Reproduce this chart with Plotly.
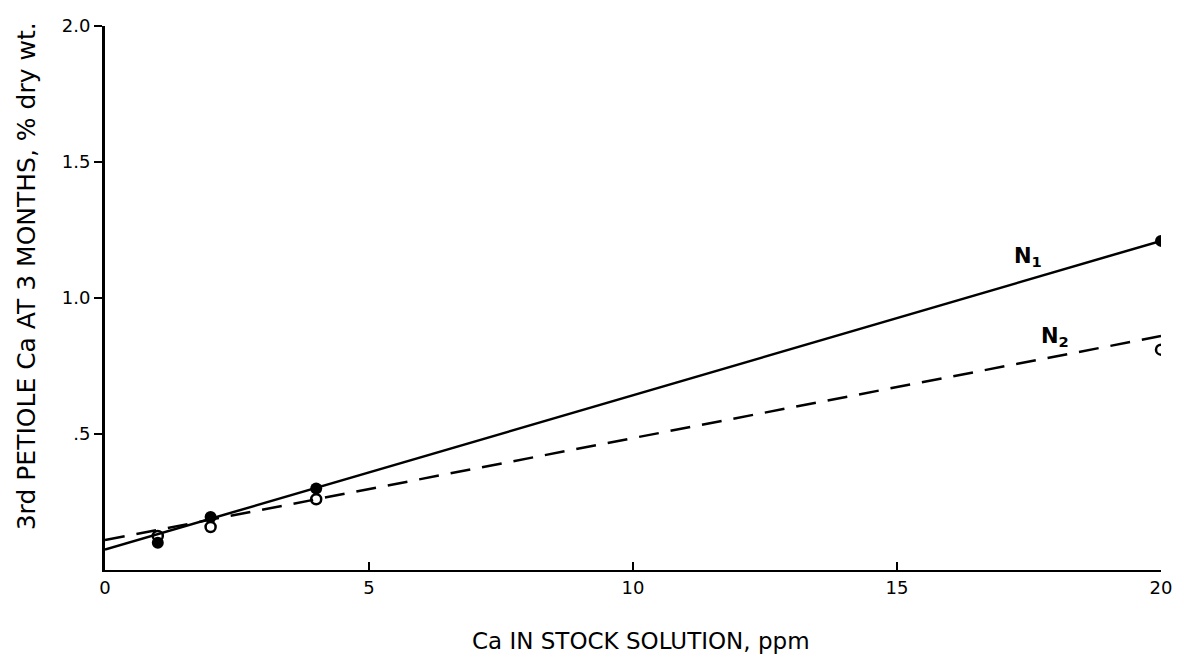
import plotly.graph_objects as go

# Data
ca_ppm = [1, 2, 4, 20]
n1_values = [0.10, 0.195, 0.30, 1.21]
n2_values = [0.125, 0.158, 0.26, 0.81]

fit_x = [0, 20]
n1_fit = [0.075, 1.21]
n2_fit = [0.11, 0.86]

x_ticks = [0, 5, 10, 15, 20]
x_tick_text = ["0", "5", "10", "15", "20"]
y_ticks = [0.5, 1.0, 1.5, 2.0]
y_tick_text = [".5", "1.0", "1.5", "2.0"]

FONT = "DejaVu Sans"
L, R, T, B = 105, 19, 26, 87
W, H = 1184, 657
PW, PH = W - L - R, H - T - B

fig = go.Figure()

fig.add_trace(go.Scatter(x=fit_x, y=n1_fit, mode="lines",
                         line=dict(color="black", width=2.5), showlegend=False))
fig.add_trace(go.Scatter(x=fit_x, y=n2_fit, mode="lines",
                         line=dict(color="black", width=2.5, dash="20px,12px"), showlegend=False))
fig.add_trace(go.Scatter(x=ca_ppm, y=n1_values, mode="markers",
                         marker=dict(symbol="circle", size=12, color="black"), showlegend=False))
fig.add_trace(go.Scatter(x=ca_ppm, y=n2_values, mode="markers",
                         marker=dict(symbol="circle-open", size=10, color="black",
                                     line=dict(width=2.5, color="black")), showlegend=False))

fig.add_annotation(x=17.17, y=1.15, text="<b>N<sub>1</sub></b>", showarrow=False,
                   xanchor="left", yanchor="middle",
                   font=dict(family=FONT, size=21, color="black"))
fig.add_annotation(x=17.68, y=0.855, text="<b>N<sub>2</sub></b>", showarrow=False,
                   xanchor="left", yanchor="middle",
                   font=dict(family=FONT, size=21, color="black"))

# x-axis title
fig.add_annotation(x=(643 - L) / PW, xref="paper", y=-(641 - (H - B)) / PH, yref="paper",
                   text="Ca IN STOCK SOLUTION, ppm", showarrow=False,
                   xanchor="center", yanchor="middle",
                   font=dict(family=FONT, size=23, color="black"))
# y-axis title
fig.add_annotation(x=-(L - 26) / PW, xref="paper", y=(H - B - 276) / PH, yref="paper",
                   text="3rd PETIOLE Ca AT 3 MONTHS, % dry wt.", showarrow=False,
                   textangle=-90, xanchor="center", yanchor="middle",
                   font=dict(family=FONT, size=25, color="black"))

fig.update_layout(
    width=W, height=H,
    margin=dict(l=L, r=R, t=T, b=B),
    paper_bgcolor="white", plot_bgcolor="white",
    font=dict(family=FONT, size=18, color="black"),
    xaxis=dict(range=[0, 20], tickvals=x_ticks, ticktext=x_tick_text,
               showgrid=False, zeroline=False, showline=True, linecolor="black", linewidth=2,
               ticks="inside", ticklen=8, tickwidth=2, tickcolor="black",
               tickfont=dict(family=FONT, size=18, color="black")),
    yaxis=dict(range=[0, 2.0], tickvals=y_ticks, ticktext=y_tick_text,
               showgrid=False, zeroline=False, showline=True, linecolor="black", linewidth=3,
               ticks="outside", ticklen=8, tickwidth=2, tickcolor="black",
               tickfont=dict(family=FONT, size=18, color="black")),
)

fig.write_html("out.html")
